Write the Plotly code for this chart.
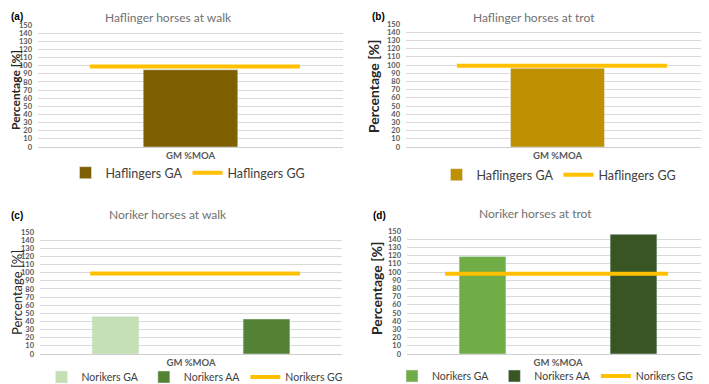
import plotly.graph_objects as go

category = ["GM %MOA"]

# (a) Haflinger walk
haf_walk_GA = [95]
haf_walk_GG = [99]
# (b) Haflinger trot
haf_trot_GA = [96]
haf_trot_GG = [99]
# (c) Noriker walk
nor_walk_GA = [46]
nor_walk_AA = [43]
nor_walk_GG = [99]
# (d) Noriker trot
nor_trot_GA = [119]
nor_trot_AA = [146]
nor_trot_GG = [98]

titles = ["Haflinger horses at walk", "Haflinger horses at trot",
          "Noriker horses at walk", "Noriker horses at trot"]
panel_labels = ["(a)", "(b)", "(c)", "(d)"]
y_ticks = list(range(0, 151, 10))

FONT = "Lato"
GOLD = "#ffc000"

# the page shows the figure offset by the body's 8px margin
OFF = 8
W, H = 709, 384


def fx(px):
    return (px - OFF) / W


def fy(py):
    return 1 - (py - OFF) / H


fig = go.Figure()


def add_bar(name, y, color, ax, leg):
    fig.add_trace(go.Bar(x=category, y=y, name=name, marker_color=color,
                         xaxis="x" + ax, yaxis="y" + ax, legend=leg))


def add_gg_legend(name, y, ax, leg):
    fig.add_trace(go.Scatter(x=category, y=y, name=name, mode="lines",
                             line=dict(color=GOLD, width=4),
                             xaxis="x" + ax, yaxis="y" + ax, legend=leg))


add_bar("Haflingers GA", haf_walk_GA, "#7f6000", "", "legend")
add_gg_legend("Haflingers GG", haf_walk_GG, "", "legend")
add_bar("Haflingers GA", haf_trot_GA, "#bf9000", "2", "legend2")
add_gg_legend("Haflingers GG", haf_trot_GG, "2", "legend2")
add_bar("Norikers GA", nor_walk_GA, "#c5e0b4", "3", "legend3")
add_bar("Norikers AA", nor_walk_AA, "#548235", "3", "legend3")
add_gg_legend("Norikers GG", nor_walk_GG, "3", "legend3")
add_bar("Norikers GA", nor_trot_GA, "#70ad47", "4", "legend4")
add_bar("Norikers AA", nor_trot_AA, "#375623", "4", "legend4")
add_gg_legend("Norikers GG", nor_trot_GG, "4", "legend4")

gg_values = [haf_walk_GG[0], haf_trot_GG[0], nor_walk_GG[0], nor_trot_GG[0]]
gg_spans = [(0.17, 0.859), (0.168, 0.861), (0.166, 0.861), (0.126, 0.864)]
axes = ["", "2", "3", "4"]
for ax, v, (s0, s1) in zip(axes, gg_values, gg_spans):
    fig.add_shape(type="line", xref=f"x{ax} domain", yref=f"y{ax}",
                  x0=s0, x1=s1, y0=v, y1=v,
                  line=dict(color=GOLD, width=4))

# plot-area boxes in window pixels: (left, right, top, bottom)
boxes = [(38, 343, 25, 147), (406, 709, 24, 147), (40, 342, 232, 354), (407, 709, 231, 354)]

layout = dict(
    width=W, height=H,
    margin=dict(l=0, r=0, t=0, b=0, autoexpand=False),
    paper_bgcolor="white", plot_bgcolor="white",
    barmode="group", bargap=0.0, bargroupgap=0.69,
    font=dict(family=FONT, color="#595959"),
    showlegend=True,
)
for i, ax in enumerate(axes):
    l, r, t, b = boxes[i]
    layout["xaxis" + ax] = dict(
        domain=[fx(l), min(fx(r), 1.0)], anchor="y" + ax, type="category", range=[-0.5, 0.5],
        showgrid=False, showline=False, ticks="",
        tickfont=dict(size=9.5, color="#595959", family=FONT, weight="bold"),
        ticklabelstandoff=1, automargin=False,
    )
    layout["yaxis" + ax] = dict(
        domain=[fy(b), fy(t)], anchor="x" + ax, range=[0, 150],
        tickvals=y_ticks, ticktext=[str(t) for t in y_ticks],
        showgrid=True, gridcolor="#d9d9d9", gridwidth=1,
        zeroline=True, zerolinecolor="#cfcfcf", zerolinewidth=1,
        showline=False, ticks="",
        tickfont=dict(size=7.5, color="#595959", family=FONT, weight="bold"),
        ticklabelstandoff=5, automargin=False,
    )

legend_pos = [(188, 173, 12.5, "center"), (559, 175, 12.5, "center"),
              (195, 377, 10.5, "center"), (699, 376, 10.5, "right")]
for i, (lx, ly, fs, xa) in enumerate(legend_pos):
    key = "legend" if i == 0 else f"legend{i + 1}"
    layout[key] = dict(
        x=fx(lx), y=fy(ly), xanchor=xa, yanchor="middle", orientation="h",
        font=dict(size=fs, color="#404040", family=FONT),
        bgcolor="rgba(0,0,0,0)", itemwidth=30, tracegroupgap=0,
    )

fig.update_layout(**layout)

# (texts kept fully inside the figure so nothing spills past its edges)
title_pos = [(168, 17), (534, 17), (168, 214), (535, 213)]
for t, (tx, ty) in zip(titles, title_pos):
    fig.add_annotation(text=t, x=fx(tx), y=fy(ty), xref="paper", yref="paper",
                       showarrow=False, xanchor="center", yanchor="middle",
                       font=dict(size=12, color="#707070", family=FONT))

label_pos = [(9, 16), (370, 16), (9, 215), (371, 215)]
for t, (tx, ty) in zip(panel_labels, label_pos):
    fig.add_annotation(text="<b>" + t + "</b>", x=fx(tx), y=fy(ty),
                       xref="paper", yref="paper", showarrow=False,
                       xanchor="left", yanchor="middle",
                       font=dict(size=10, color="#000000", family="Liberation Sans"))

ytitle_pos = [(16, 90, 12, "bold"), (374, 87, 14, "bold"), (17, 293, 13, "normal"), (376, 289, 14, "bold")]
for (tx, ty, fs, w) in ytitle_pos:
    txt = "Percentage [%]"
    if w == "bold":
        txt = "<b>" + txt + "</b>"
    fig.add_annotation(text=txt, x=fx(tx), y=fy(ty), xref="paper", yref="paper",
                       showarrow=False, xanchor="center", yanchor="middle", textangle=-90,
                       font=dict(size=fs, color="#262626", family=FONT))

fig.write_html("out.html")
